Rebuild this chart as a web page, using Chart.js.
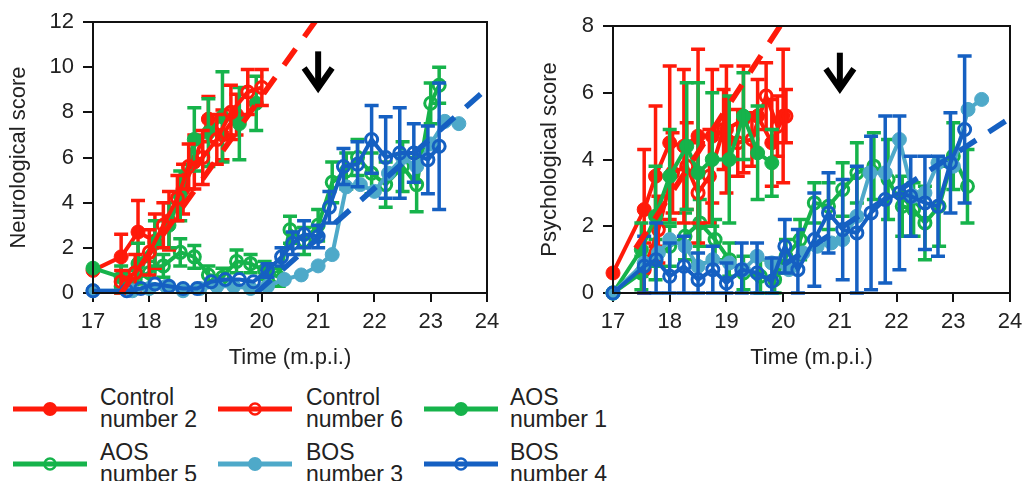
<!DOCTYPE html>
<html><head><meta charset="utf-8">
<script src="https://cdn.jsdelivr.net/npm/chart.js@4/dist/chart.umd.min.js"></script>
<style>
html,body{margin:0;padding:0;background:#fff;}
body{width:1024px;height:481px;position:relative;overflow:hidden;font-family:"Liberation Sans",Arial,sans-serif;color:#222;}
#c1{position:absolute;left:0;top:0;}
#c2{position:absolute;left:520px;top:0;}
.lgi{position:absolute;}
.lgt{position:absolute;font-size:23px;line-height:22px;white-space:nowrap;}
</style></head><body>
<canvas id="c1" width="500" height="380"></canvas>
<canvas id="c2" width="504" height="380"></canvas>
<div id="legend"></div>
<script>
// ---------- Neurological score (left) ----------
const neuroCtrl2X = [17, 17.5, 17.8, 18.1, 18.35, 18.6, 18.8, 19.05, 19.3, 19.55];
const neuroCtrl2Y = [1.0, 1.6, 2.7, 2.3, 3.2, 4.6, 5.8, 7.7, 7.0, 7.9];
const neuroCtrl2E = [0, 1.0, 1.4, 1.2, 1.3, 1.1, 1.2, 1.0, 1.1, 0.9];

const neuroCtrl6X = [17.5, 17.75, 18.0, 18.25, 18.5, 18.7, 18.95, 19.2, 19.45, 19.75, 20.0];
const neuroCtrl6Y = [0.5, 0.9, 1.8, 3.0, 4.2, 5.6, 6.0, 6.8, 8.0, 8.9, 9.1];
const neuroCtrl6E = [0.5, 0.8, 1.0, 1.0, 1.0, 1.0, 1.2, 1.1, 1.2, 1.0, 0.8];

const neuroAos1X = [17, 17.5, 17.8, 18.1, 18.35, 18.55, 18.8, 19.05, 19.3, 19.6, 19.9];
const neuroAos1Y = [1.1, 0.7, 1.3, 2.2, 3.0, 4.3, 6.8, 7.1, 7.8, 7.5, 8.4];
const neuroAos1E = [0, 0.5, 0.9, 1.0, 1.0, 1.1, 1.4, 1.5, 2.0, 1.6, 1.2];

const neuroAos5X = [17.5, 17.75, 18.0, 18.25, 18.55, 18.8, 19.05, 19.3, 19.55, 19.8, 20.05, 20.3, 20.5, 20.75, 21.0, 21.25, 21.5, 21.7, 21.95, 22.2, 22.5, 22.75, 23.0, 23.15];
const neuroAos5Y = [0.3, 0.6, 0.9, 1.2, 1.8, 1.6, 0.8, 0.7, 1.4, 1.3, 1.0, 0.7, 2.8, 2.3, 3.0, 4.9, 5.4, 6.0, 5.3, 4.8, 5.6, 4.8, 8.4, 9.2];
const neuroAos5E = [0.3, 0.4, 0.5, 0.5, 0.6, 0.5, 0.4, 0.4, 0.5, 0.4, 0.4, 0.4, 0.6, 0.6, 0.7, 0.9, 0.8, 0.8, 0.9, 1.0, 1.1, 1.2, 0.9, 0.8];

const neuroBos3X = [17, 17.7, 18.0, 18.3, 18.6, 18.9, 19.2, 19.5, 19.8, 20.1, 20.4, 20.7, 21.0, 21.25, 21.5, 21.75, 22.0, 22.25, 22.5, 22.75, 23.0, 23.25, 23.5];
const neuroBos3Y = [0.1, 0.1, 0.2, 0.3, 0.1, 0.2, 0.3, 0.3, 0.2, 0.3, 0.6, 0.8, 1.2, 1.7, 4.7, 4.8, 4.5, 5.3, 6.0, 5.6, 6.6, 7.6, 7.5];

const neuroBos4X = [17, 17.6, 17.85, 18.1, 18.35, 18.6, 18.85, 19.1, 19.35, 19.6, 19.85, 20.1, 20.35, 20.55, 20.75, 21.0, 21.2, 21.45, 21.7, 21.95, 22.2, 22.45, 22.7, 22.95, 23.15];
const neuroBos4Y = [0.1, 0.1, 0.2, 0.4, 0.3, 0.2, 0.2, 0.5, 0.6, 0.6, 0.5, 1.0, 1.6, 2.2, 2.6, 2.5, 3.8, 5.6, 5.7, 6.8, 6.0, 6.2, 6.2, 5.9, 6.5];
const neuroBos4E = [0, 0, 0, 0, 0, 0, 0, 0, 0, 0, 0, 0.3, 0.4, 0.5, 0.6, 0.5, 0.7, 0.8, 1.0, 1.5, 1.8, 2.0, 1.3, 1.5, 2.8];

const neuroRedTrendX = [17.5, 21.2];
const neuroRedTrendY = [0, 12.9];
const neuroBlueTrendX = [19.9, 24.2];
const neuroBlueTrendY = [0, 9.5];
const neuroArrow = {x: 21, top: 10.7, tip: 8.9};

// ---------- Psychological score (right) ----------
const psychCtrl2X = [17, 17.55, 17.75, 18.0, 18.25, 18.5, 18.75, 19.0, 19.3, 19.55, 19.8, 20.0];
const psychCtrl2Y = [0.6, 2.5, 3.5, 4.5, 4.4, 4.7, 4.7, 4.9, 5.2, 5.3, 4.5, 5.3];
const psychCtrl2E = [0, 1.8, 2.1, 2.3, 2.3, 2.6, 2.0, 1.9, 1.6, 1.1, 1.3, 2.0];

const psychCtrl6X = [17.55, 17.8, 18.05, 18.3, 18.5, 18.7, 18.95, 19.2, 19.45, 19.7, 19.9, 20.05];
const psychCtrl6Y = [0.7, 1.9, 3.6, 3.8, 3.0, 3.5, 4.9, 4.5, 4.6, 5.9, 5.0, 5.3];
const psychCtrl6E = [0.8, 1.0, 1.2, 1.3, 1.5, 1.4, 1.2, 1.0, 0.8, 1.0, 0.9, 0.8];

const psychAos1X = [17, 17.5, 17.75, 18.0, 18.3, 18.5, 18.75, 19.05, 19.3, 19.55, 19.8];
const psychAos1Y = [0, 1.3, 2.3, 3.5, 4.4, 3.6, 4.0, 4.0, 5.3, 4.2, 3.9];
const psychAos1E = [0, 0.8, 1.5, 1.4, 1.9, 2.7, 2.0, 1.9, 1.3, 1.4, 1.0];

const psychAos5X = [17, 17.5, 17.75, 18.0, 18.27, 18.53, 18.8, 19.05, 19.3, 19.6, 19.85, 20.05, 20.3, 20.55, 20.8, 21.05, 21.3, 21.6, 21.85, 22.1, 22.3, 22.5, 22.75, 23.0, 23.25];
const psychAos5Y = [0, 0.6, 1.0, 1.4, 1.7, 2.1, 1.6, 1.0, 0.6, 0.5, 0.4, 1.1, 1.6, 2.7, 2.6, 3.1, 3.6, 3.8, 3.4, 2.6, 2.5, 2.1, 2.6, 4.1, 3.2];
const psychAos5E = [0, 0.5, 0.6, 0.6, 0.7, 0.7, 0.6, 0.5, 0.5, 0.5, 0.5, 0.5, 0.6, 0.6, 0.7, 0.8, 0.9, 1.0, 1.2, 0.9, 0.8, 1.1, 1.2, 1.0, 1.1];

const psychBos3X = [17, 17.55, 17.8, 18.0, 18.27, 18.5, 18.76, 19.05, 19.3, 19.54, 19.8, 20.1, 20.35, 20.6, 20.85, 21.05, 21.3, 21.53, 21.8, 22.05, 22.3, 22.5, 22.73, 23.0, 23.26, 23.5];
const psychBos3Y = [0, 0.9, 1.2, 1.6, 1.4, 0.8, 1.0, 0.9, 0.7, 1.1, 0.9, 0.7, 1.2, 1.4, 1.5, 1.6, 2.3, 3.6, 3.6, 4.6, 2.9, 3.0, 3.9, 3.8, 5.5, 5.8];

const psychBos4X = [17, 17.55, 17.76, 18.0, 18.25, 18.5, 18.76, 19.0, 19.27, 19.54, 19.8, 20.03, 20.26, 20.55, 20.8, 21.05, 21.3, 21.55, 21.8, 22.05, 22.25, 22.5, 22.73, 22.95, 23.2];
const psychBos4Y = [0, 0.8, 1.0, 0.5, 0.8, 0.4, 0.7, 0.3, 0.7, 0.6, 0.35, 1.4, 0.7, 1.6, 2.4, 1.9, 1.8, 2.4, 2.8, 3.0, 2.9, 2.7, 2.6, 3.9, 4.9];
const psychBos4E = [0, 0.9, 1.1, 1.0, 0.9, 0.8, 0.7, 0.6, 0.8, 0.9, 0.7, 0.8, 1.2, 1.4, 1.2, 1.5, 2.0, 2.3, 2.5, 2.3, 1.2, 1.4, 1.5, 1.5, 2.2];

const psychRedTrendX = [17.4, 20.1];
const psychRedTrendY = [1.34, 8.4];
const psychBlueTrendX = [20.0, 24.2];
const psychBlueTrendY = [0.83, 5.46];
const psychArrow = {x: 21, top: 7.2, tip: 6.0};

// ---------- legend ----------
const legendLabels = [['Control', 'number 2'], ['Control', 'number 6'], ['AOS', 'number 1'], ['AOS', 'number 5'], ['BOS', 'number 3'], ['BOS', 'number 4']];
const RED = '#FF1A0A', GREEN = '#16B34B', LIGHT = '#4EA9C9', DARK = '#1560C2';
const legendColors = [RED, RED, GREEN, GREEN, LIGHT, DARK];
const legendFilled = [true, false, true, false, true, false];

Chart.defaults.font.family = '"Liberation Sans", Arial, sans-serif';
Chart.defaults.color = '#222';

function pts(xs, ys) { return xs.map((x, i) => ({x: x, y: ys[i]})); }
function series(label, xs, ys, es, color, filled, order) {
  return {
    label: label, data: pts(xs, ys), errors: es || null,
    borderColor: color, backgroundColor: color,
    pointBackgroundColor: filled ? color : 'rgba(255,255,255,0)',
    pointBorderColor: color, pointRadius: filled ? 7 : 6,
    pointBorderWidth: filled ? 1 : 3, borderWidth: 4, tension: 0,
    clip: false, order: order
  };
}
function trend(xs, ys, color) {
  return {
    label: 'trend', data: pts(xs, ys), borderColor: color, borderWidth: 5.5,
    borderDash: [20, 15], pointRadius: 0, clip: 0, order: 0, errors: null
  };
}

const errorBars = {
  id: 'errorBars',
  afterDatasetDraw(chart, args) {
    const ds = chart.data.datasets[args.index];
    if (!ds.errors) return;
    const xs = chart.scales.x, ys = chart.scales.y, ctx = chart.ctx, a = chart.chartArea;
    ctx.save();
    ctx.strokeStyle = ds.borderColor; ctx.lineWidth = 3.5; ctx.lineCap = 'butt';
    ds.data.forEach((p, i) => {
      const e = ds.errors[i];
      if (!e) return;
      const px = xs.getPixelForValue(p.x);
      const top = Math.max(a.top, ys.getPixelForValue(p.y + e));
      const bot = Math.min(a.bottom, ys.getPixelForValue(p.y - e));
      ctx.beginPath();
      ctx.moveTo(px, top); ctx.lineTo(px, bot);
      ctx.moveTo(px - 7, top); ctx.lineTo(px + 7, top);
      ctx.moveTo(px - 7, bot); ctx.lineTo(px + 7, bot);
      ctx.stroke();
    });
    ctx.restore();
  }
};
const frame = {
  id: 'frame',
  afterDraw(chart) {
    const a = chart.chartArea, ctx = chart.ctx;
    ctx.save(); ctx.strokeStyle = '#111'; ctx.lineWidth = 2;
    ctx.strokeRect(a.left, a.top, a.right - a.left, a.bottom - a.top);
    ctx.restore();
  }
};
const arrowPlugin = {
  id: 'arrowMark',
  afterDatasetsDraw(chart, args, opts) {
    const ctx = chart.ctx, xs = chart.scales.x, ys = chart.scales.y;
    const x = xs.getPixelForValue(opts.x), t = ys.getPixelForValue(opts.top), b = ys.getPixelForValue(opts.tip);
    ctx.save(); ctx.strokeStyle = '#000'; ctx.lineWidth = 6; ctx.lineCap = 'butt'; ctx.lineJoin = 'miter';
    ctx.beginPath(); ctx.moveTo(x, t); ctx.lineTo(x, b - 4); ctx.stroke();
    ctx.beginPath(); ctx.moveTo(x - 14, b - 24); ctx.lineTo(x, b - 4); ctx.lineTo(x + 14, b - 24); ctx.stroke();
    ctx.restore();
  }
};

function makeChart(id, datasets, ymax, ytitle, titlePad, padTop, padRight, arrow) {
  return new Chart(document.getElementById(id), {
    type: 'line',
    data: {datasets: datasets},
    plugins: [errorBars, frame, arrowPlugin],
    options: {
      responsive: false, animation: false, devicePixelRatio: 1,
      layout: {padding: {left: 0, right: padRight, top: padTop, bottom: 0}},
      plugins: {legend: {display: false}, tooltip: {enabled: false}, arrowMark: arrow},
      scales: {
        x: {
          type: 'linear', min: 17, max: 24,
          ticks: {stepSize: 1, font: {size: 22}, color: '#222', padding: 7},
          grid: {drawOnChartArea: false, drawTicks: true, tickLength: 9, color: '#111', lineWidth: 2},
          border: {display: true, color: '#111', width: 2},
          title: {display: true, text: 'Time (m.p.i.)', font: {size: 22}, color: '#222', padding: {top: 0, bottom: 9}},
          afterFit(s) { s.height = 87; s.paddingLeft = 0; s.paddingRight = 0; }
        },
        y: {
          min: 0, max: ymax,
          ticks: {stepSize: 2, font: {size: 22}, color: '#222', padding: 9},
          grid: {drawOnChartArea: false, drawTicks: true, tickLength: 10, color: '#111', lineWidth: 2},
          border: {display: true, color: '#111', width: 2},
          title: {display: true, text: ytitle, font: {size: 22}, color: '#222', padding: {top: titlePad, bottom: 0}},
          afterFit(s) { s.width = 93; s.paddingTop = 0; s.paddingBottom = 0; }
        }
      }
    }
  });
}

makeChart('c1', [
  trend(neuroRedTrendX, neuroRedTrendY, RED),
  trend(neuroBlueTrendX, neuroBlueTrendY, DARK),
  series('BOS number 4', neuroBos4X, neuroBos4Y, neuroBos4E, DARK, false, 1),
  series('BOS number 3', neuroBos3X, neuroBos3Y, null, LIGHT, true, 2),
  series('Control number 6', neuroCtrl6X, neuroCtrl6Y, neuroCtrl6E, RED, false, 3),
  series('AOS number 1', neuroAos1X, neuroAos1Y, neuroAos1E, GREEN, true, 4),
  series('Control number 2', neuroCtrl2X, neuroCtrl2Y, neuroCtrl2E, RED, true, 5),
  series('AOS number 5', neuroAos5X, neuroAos5Y, neuroAos5E, GREEN, false, 6)
], 12, 'Neurological score', 6, 22, 13, neuroArrow);

makeChart('c2', [
  trend(psychRedTrendX, psychRedTrendY, RED),
  trend(psychBlueTrendX, psychBlueTrendY, DARK),
  series('BOS number 4', psychBos4X, psychBos4Y, psychBos4E, DARK, false, 1),
  series('BOS number 3', psychBos3X, psychBos3Y, null, LIGHT, true, 2),
  series('Control number 6', psychCtrl6X, psychCtrl6Y, psychCtrl6E, RED, false, 4),
  series('AOS number 1', psychAos1X, psychAos1Y, psychAos1E, GREEN, true, 3),
  series('Control number 2', psychCtrl2X, psychCtrl2Y, psychCtrl2E, RED, true, 5),
  series('AOS number 5', psychAos5X, psychAos5Y, psychAos5E, GREEN, false, 6)
], 8, 'Psychological score', 17, 26, 14, psychArrow);

// HTML legend
const lg = document.getElementById('legend');
const colLine = [13, 218, 424], colText = [100, 306, 510], rowCenter = [409, 464];
legendLabels.forEach((lab, i) => {
  const c = i % 3, r = Math.floor(i / 3);
  const svgNS = 'http://www.w3.org/2000/svg';
  const svg = document.createElementNS(svgNS, 'svg');
  svg.setAttribute('width', '76'); svg.setAttribute('height', '20');
  svg.setAttribute('class', 'lgi');
  svg.style.left = colLine[c] + 'px'; svg.style.top = (rowCenter[r] - 10) + 'px';
  const ln = document.createElementNS(svgNS, 'line');
  ln.setAttribute('x1', '0'); ln.setAttribute('x2', '74'); ln.setAttribute('y1', '10'); ln.setAttribute('y2', '10');
  ln.setAttribute('stroke', legendColors[i]); ln.setAttribute('stroke-width', '5');
  svg.appendChild(ln);
  const ci = document.createElementNS(svgNS, 'circle');
  ci.setAttribute('cx', '37'); ci.setAttribute('cy', '10');
  if (legendFilled[i]) { ci.setAttribute('r', '7'); ci.setAttribute('fill', legendColors[i]); }
  else { ci.setAttribute('r', '5.5'); ci.setAttribute('fill', 'none'); ci.setAttribute('stroke', legendColors[i]); ci.setAttribute('stroke-width', '2.5'); }
  svg.appendChild(ci);
  lg.appendChild(svg);
  const t = document.createElement('div');
  t.className = 'lgt';
  t.style.left = colText[c] + 'px'; t.style.top = (rowCenter[r] - 23) + 'px';
  t.innerHTML = lab[0] + '<br>' + lab[1];
  lg.appendChild(t);
});
</script>
</body></html>
